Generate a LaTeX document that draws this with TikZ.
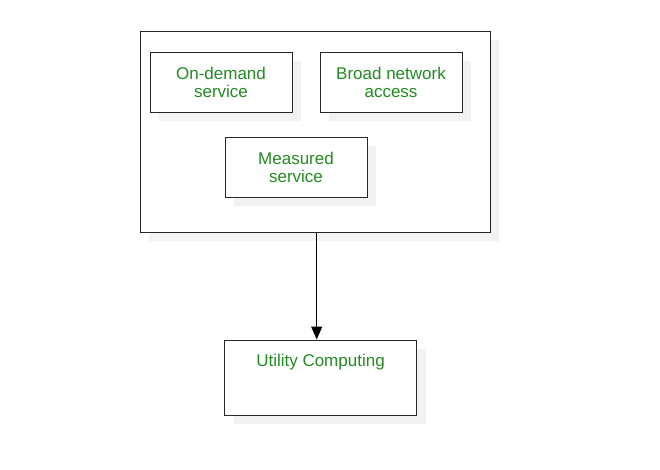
\documentclass[tikz,border=0pt]{standalone}
\usepackage{fontspec}
\setmainfont{Liberation Sans}
\usetikzlibrary{shadows,arrows.meta}
\definecolor{txtgreen}{RGB}{34,139,34}
\begin{document}
\begin{tikzpicture}[x=1pt,y=-1pt,
    box/.style={draw=black!85, line width=1pt, fill=white, inner sep=0pt,
        font=\fontsize{17}{18}\selectfont, text=txtgreen, align=center,
        drop shadow={shadow xshift=9pt, shadow yshift=-9pt, fill=black!5, opacity=1}}]
    \useasboundingbox (0,0) rectangle (660,469);
    \node[box, minimum width=350, minimum height=201] (outer) at (315,131.5) {};
    \node[box, minimum width=142, minimum height=60] (ondemand) at (221,82) {On-demand\\service};
    \node[box, minimum width=142, minimum height=60] (broad) at (391,82) {Broad network\\access};
    \node[box, minimum width=142, minimum height=60] (measured) at (296,167) {Measured\\service};
    \node[box, minimum width=192, text height=26, text depth=49] (util) at (320.5,377.5) {Utility Computing};
    \draw[line width=1.2pt, -{Triangle[width=11pt,length=13pt]}] ([xshift=1.7pt]outer.south) -- ([xshift=1.7pt]outer.south |- util.north);
\end{tikzpicture}
\end{document}
